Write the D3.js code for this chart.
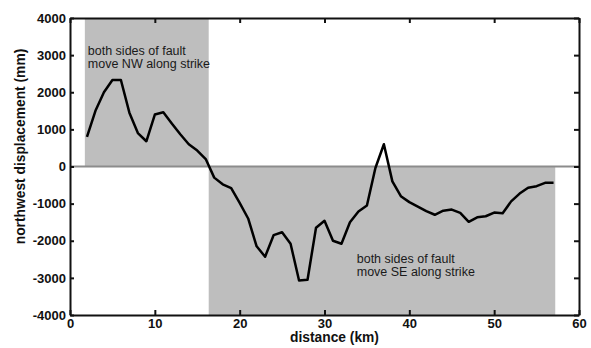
<!DOCTYPE html>
<html>
    <head>
        <meta charset="utf-8">
        <style>
            body { margin: 0; background: #fff; }
            .line {
                fill: none;
                stroke: #000;
                stroke-width: 2.5;
                stroke-linejoin: round;
            }
            .axis path, .axis line {
                stroke: #111;
                stroke-width: 2;
            }
            .axis text {
                font-family: "Liberation Sans", Arial, sans-serif;
                font-weight: bold;
                font-size: 13px;
                fill: #111;
            }
            .title {
                font-family: "Liberation Sans", Arial, sans-serif;
                font-weight: bold;
                font-size: 13.8px;
                fill: #111;
            }
            .note {
                font-family: "Liberation Sans", Arial, sans-serif;
                font-size: 12.5px;
                fill: #1a1a1a;
            }
        </style>
    </head>
<body>
<script src="https://d3js.org/d3.v7.min.js"></script>

<div class="chart"></div>

<script>

var distance = [2,3,4,5,6,7,8,9,10,11,12,13,14,15,16,17,18,19,20,21,22,23,24,25,26,27,28,29,
                30,31,32,33,34,35,36,37,38,39,40,41,42,43,44,45,46,47,48,49,50,51,52,53,54,55,56,57];
var displacement = [800,1500,2000,2330,2330,1450,900,680,1400,1460,1160,870,600,430,200,
                    -300,-480,-580,-980,-1400,-2150,-2430,-1850,-1770,-2080,-3070,-3050,-1650,
                    -1460,-2000,-2080,-1500,-1210,-1050,-40,600,-400,-800,-960,-1080,-1200,-1300,
                    -1190,-1160,-1250,-1490,-1370,-1340,-1240,-1260,-940,-730,-570,-530,-440,-440];

// shaded boxes: NW half above zero, SE half below zero
var shadeFrom = [1.75, 16.35];
var shadeTo = [16.35, 57.2];
var shadeTop = [4000, 0];
var shadeBottom = [0, -4000];

var xTicks = [0,10,20,30,40,50,60];
var yTicks = [-4000,-3000,-2000,-1000,0,1000,2000,3000,4000];

var noteLines = [["both sides of fault", "move NW along strike"],
                 ["both sides of fault", "move SE along strike"]];
var noteX = [2.1, 33.8];
var noteY = [3000, -2610];

var margin = {top: 18, right: 12, bottom: 33, left: 70},
    width = 591 - margin.left - margin.right,
    height = 348 - margin.top - margin.bottom;

var xScale = d3.scaleLinear().domain([0, 60]).range([0, width]);
var yScale = d3.scaleLinear().domain([-4000, 4000]).range([height, 0]);

var svg = d3.select(".chart").append("svg")
    .attr("width", 591)
    .attr("height", 348)
    .append("g")
    .attr("transform", "translate(" + margin.left + "," + margin.top + ")");

// gray boxes
svg.selectAll(".shade")
    .data(shadeFrom)
    .enter().append("rect")
    .attr("class", "shade")
    .attr("x", function(d) { return xScale(d); })
    .attr("y", function(d, i) { return yScale(shadeTop[i]); })
    .attr("width", function(d, i) { return xScale(shadeTo[i]) - xScale(d); })
    .attr("height", function(d, i) { return yScale(shadeBottom[i]) - yScale(shadeTop[i]); })
    .attr("fill", "#bebebe");

// zero line
svg.append("line")
    .attr("x1", xScale(0)).attr("x2", xScale(60))
    .attr("y1", yScale(0)).attr("y2", yScale(0))
    .attr("stroke", "#8c8c8c")
    .attr("stroke-width", 2);

// notes
noteLines.forEach(function(lines, i) {
    var t = svg.append("text")
        .attr("class", "note")
        .attr("x", xScale(noteX[i]))
        .attr("y", yScale(noteY[i]));
    lines.forEach(function(s, j) {
        t.append("tspan")
            .attr("x", xScale(noteX[i]))
            .attr("dy", j == 0 ? 0 : 13)
            .text(s);
    });
});

var line = d3.line()
    .x(function(d, i) { return xScale(distance[i]); })
    .y(function(d) { return yScale(d); });

svg.append("path")
    .datum(displacement)
    .attr("class", "line")
    .attr("d", line);

// plain integers with a hyphen minus, like the original
var fmt = function(d) { return String(d); };

// axes, ticks pointing inward
svg.append("g")
    .attr("class", "axis")
    .attr("transform", "translate(0," + height + ")")
    .call(d3.axisBottom(xScale).tickValues(xTicks).tickFormat(fmt).tickSizeInner(-5).tickSizeOuter(0).tickPadding(4));

svg.append("g")
    .attr("class", "axis")
    .call(d3.axisTop(xScale).tickValues(xTicks).tickSizeInner(-5).tickSizeOuter(0).tickFormat(""));

svg.append("g")
    .attr("class", "axis")
    .call(d3.axisLeft(yScale).tickValues(yTicks).tickFormat(fmt).tickSizeInner(-4).tickSizeOuter(0).tickPadding(4));

svg.append("g")
    .attr("class", "axis")
    .attr("transform", "translate(" + width + ",0)")
    .call(d3.axisRight(yScale).tickValues(yTicks).tickSizeInner(-5).tickSizeOuter(0).tickFormat(""));

// axis titles
svg.append("text")
    .attr("class", "title")
    .attr("x", width / 2 + 10)
    .attr("y", height + 27)
    .attr("text-anchor", "middle")
    .text("distance (km)");

svg.append("text")
    .attr("class", "title")
    .attr("transform", "translate(" + (-45) + "," + (height / 2 - 20) + ") rotate(-90)")
    .attr("text-anchor", "middle")
    .text("northwest displacement (mm)");

</script>

</body>
</html>
